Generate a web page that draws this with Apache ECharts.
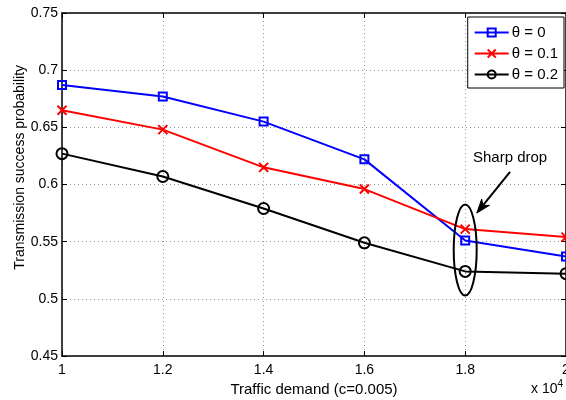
<!DOCTYPE html>
<html>
<head>
<meta charset="utf-8">
<script src="https://cdn.jsdelivr.net/npm/echarts@6/dist/echarts.min.js"></script>
<style>html,body{margin:0;padding:0;background:#fff}#c{width:566px;height:400px}</style>
</head>
<body>
<div id="c"></div>
<script>
var xValues = [1, 1.2, 1.4, 1.6, 1.8, 2];
var theta0 = [0.687, 0.677, 0.655, 0.622, 0.551, 0.537];
var theta01 = [0.665, 0.648, 0.615, 0.596, 0.561, 0.554];
var theta02 = [0.627, 0.607, 0.579, 0.549, 0.524, 0.522];
var seriesNames = ['θ = 0', 'θ = 0.1', 'θ = 0.2'];
var xTickLabels = ['1', '1.2', '1.4', '1.6', '1.8', '2'];
var yTickLabels = ['0.45', '0.5', '0.55', '0.6', '0.65', '0.7', '0.75'];

var FONT = '"Liberation Sans", Arial, Helvetica, sans-serif';
function pairs(ys) { return xValues.map(function (x, i) { return [x, ys[i]]; }); }
function fmtX(v) { var s = xTickLabels.filter(function (t) { return Math.abs(parseFloat(t) - v) < 1e-6; }); return s.length ? s[0] : ''; }
function fmtY(v) { var s = yTickLabels.filter(function (t) { return Math.abs(parseFloat(t) - v) < 1e-6; }); return s.length ? s[0] : ''; }

var chart = echarts.init(document.getElementById('c'), null, { renderer: 'canvas' });
var gridLine = { show: true, lineStyle: { color: '#999', type: [1, 3], width: 1 } };
var option = {
  animation: false,
  backgroundColor: '#fff',
  grid: { left: 62, right: 0, top: 13, bottom: 44, containLabel: false, outerBoundsMode: 'none' },
  xAxis: [{
    type: 'value', min: 1, max: 2, interval: 0.2, position: 'bottom',
    axisLine: { show: true, onZero: false, lineStyle: { color: '#000', width: 1.5 } },
    axisTick: { show: true, inside: true, length: 5, lineStyle: { color: '#000' } },
    axisLabel: { color: '#000', fontFamily: FONT, fontSize: 14, margin: 7, formatter: fmtX, showMaxLabel: true, showMinLabel: true, hideOverlap: false },
    splitLine: gridLine,
    name: 'Traffic demand (c=0.005)', nameLocation: 'middle', nameGap: 25,
    nameTextStyle: { color: '#000', fontFamily: FONT, fontSize: 15 }
  }, {
    type: 'value', min: 1, max: 2, interval: 0.2, position: 'top',
    axisLine: { show: true, onZero: false, lineStyle: { color: '#000', width: 1.5 } },
    axisTick: { show: true, inside: true, length: 5, lineStyle: { color: '#000' } },
    axisLabel: { show: false }, splitLine: { show: false }
  }],
  yAxis: [{
    type: 'value', min: 0.45, max: 0.75, interval: 0.05, position: 'left',
    axisLine: { show: true, onZero: false, lineStyle: { color: '#000', width: 1.5 } },
    axisTick: { show: true, inside: true, length: 5, lineStyle: { color: '#000' } },
    axisLabel: { color: '#000', fontFamily: FONT, fontSize: 14, margin: 4, formatter: fmtY, showMaxLabel: true, showMinLabel: true },
    splitLine: gridLine
  }, {
    type: 'value', min: 0.45, max: 0.75, interval: 0.05, position: 'right',
    axisLine: { show: true, onZero: false, lineStyle: { color: '#000', width: 1.5 } },
    axisTick: { show: true, inside: true, length: 5, lineStyle: { color: '#000' } },
    axisLabel: { show: false }, splitLine: { show: false }
  }],
  legend: {
    right: 2, top: 17, orient: 'vertical', itemGap: 6,
    backgroundColor: '#fff', borderColor: '#000', borderWidth: 1,
    padding: [8, 6, 6, 6], itemWidth: 34, itemHeight: 10,
    textStyle: { color: '#000', fontFamily: FONT, fontSize: 15, padding: [0, 0, 0, -2] },
    data: seriesNames
  },
  series: [{
    name: seriesNames[0], type: 'line', data: pairs(theta0),
    symbol: 'rect', symbolSize: 8,
    itemStyle: { color: 'rgba(255,255,255,0)', borderColor: '#0000ff', borderWidth: 2 },
    lineStyle: { color: '#0000ff', width: 2 }, z: 3
  }, {
    name: seriesNames[1], type: 'line', data: pairs(theta01),
    symbol: 'path://M0,0L10,10M10,0L0,10', symbolSize: 9,
    itemStyle: { color: '#ff0000', borderColor: '#ff0000', borderWidth: 2 },
    lineStyle: { color: '#ff0000', width: 2 }, z: 3
  }, {
    name: seriesNames[2], type: 'line', data: pairs(theta02),
    symbol: 'circle', symbolSize: 11,
    itemStyle: { color: 'rgba(255,255,255,0)', borderColor: '#000', borderWidth: 2 },
    lineStyle: { color: '#000', width: 2 }, z: 3
  }]
};
chart.setOption(option);

function px(x, y) { return chart.convertToPixel({ gridIndex: 0 }, [x, y]); }
var eC = px(1.8, 0.5427), eR = px(1.8228, 0.5825);
var aS = px(1.889, 0.611), aE = px(1.823, 0.575);
var tP = px(1.889, 0.623);
var dx = aE[0] - aS[0], dy = aE[1] - aS[1], L = Math.sqrt(dx * dx + dy * dy);
var ux = dx / L, uy = dy / L, nx = -uy, ny = ux;
var hl = 14, hw = 5;
var base = [aE[0] - ux * hl, aE[1] - uy * hl];
var back = [aE[0] - ux * hl * 0.7, aE[1] - uy * hl * 0.7];
var xPos = px(2, 0.45);
var yMid = px(1, 0.615);
chart.setOption({
  graphic: [
    { type: 'ellipse', shape: { cx: eC[0], cy: eC[1], rx: eR[0] - eC[0], ry: eC[1] - eR[1] },
      style: { fill: 'none', stroke: '#000', lineWidth: 2 }, z: 10 },
    { type: 'line', shape: { x1: aS[0], y1: aS[1], x2: back[0], y2: back[1] },
      style: { stroke: '#000', lineWidth: 2 }, z: 10 },
    { type: 'polygon', shape: { points: [aE, [base[0] + nx * hw, base[1] + ny * hw], back, [base[0] - nx * hw, base[1] - ny * hw]] },
      style: { fill: '#000', stroke: '#000', lineWidth: 1 }, z: 10 },
    { type: 'text', x: tP[0], y: tP[1],
      style: { text: 'Sharp drop', fill: '#000', font: '15px ' + FONT, align: 'center', verticalAlign: 'middle' }, z: 10 },
    { type: 'text', x: yMid[0] - 42, y: yMid[1], rotation: Math.PI / 2,
      style: { text: 'Transmission success probability', fill: '#000', font: '14px ' + FONT, align: 'center', verticalAlign: 'middle' }, z: 10 },
    { type: 'text', x: xPos[0] - 35, y: xPos[1] + 33,
      style: { text: 'x 10{s|4}', fill: '#000', font: '14px ' + FONT, align: 'left', verticalAlign: 'middle',
        rich: { s: { fontSize: 10, fontFamily: FONT, verticalAlign: 'top', padding: [0, 0, 9, 0] } } }, z: 10 }
  ]
});
</script>
</body>
</html>
